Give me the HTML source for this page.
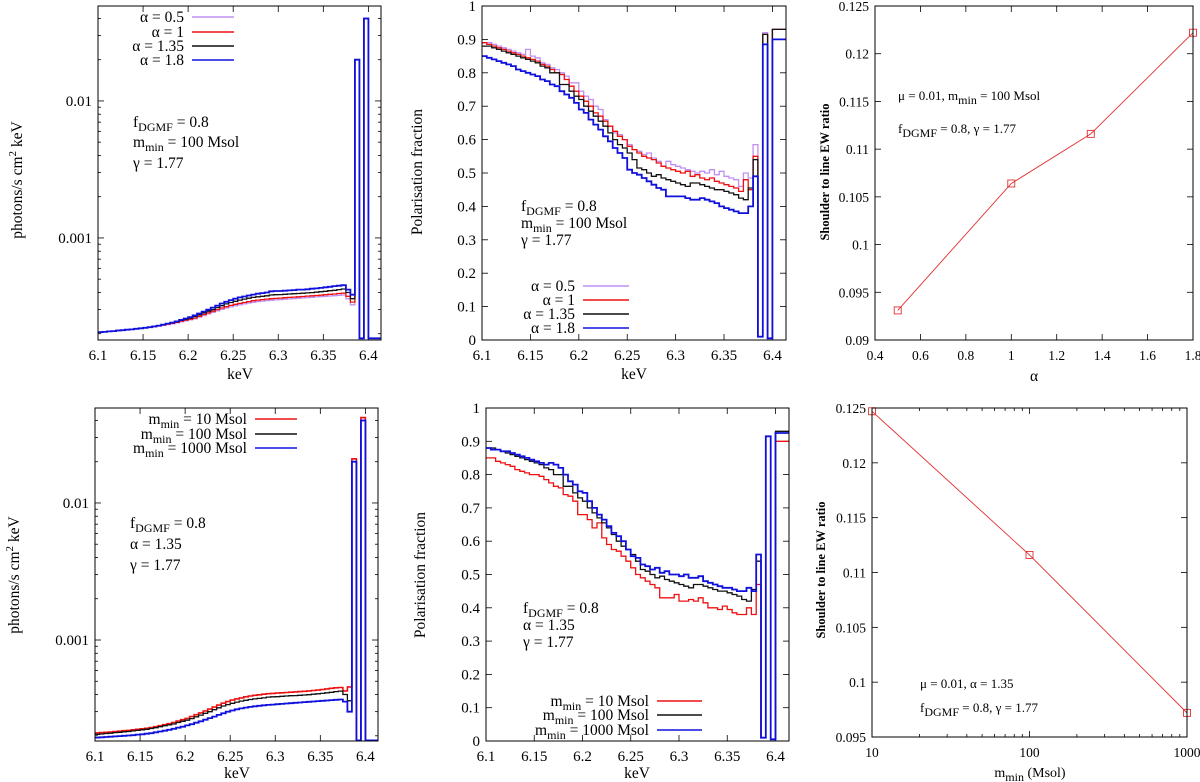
<!DOCTYPE html>
<html><head><meta charset="utf-8">
<style>
html,body{margin:0;padding:0;background:#fff;}
svg{display:block;}
text{font-family:"Liberation Serif",serif;fill:#000;}
.tk{font-size:15px;font-family:"Liberation Serif",serif;}
.tn{font-size:13.5px;font-family:"Liberation Serif",serif;}
</style></head>
<body>
<svg id="fig" width="1200" height="782" viewBox="0 0 1200 782" xmlns="http://www.w3.org/2000/svg"></svg>
<script>
// ---------- DATA ----------
const binEdges = [6.100,6.105,6.110,6.115,6.120,6.125,6.130,6.135,6.140,6.145,
6.150,6.155,6.160,6.165,6.170,6.175,6.180,6.185,6.190,6.195,
6.200,6.205,6.210,6.215,6.220,6.225,6.230,6.235,6.240,6.245,
6.250,6.255,6.260,6.265,6.270,6.275,6.280,6.285,6.290,6.295,
6.300,6.305,6.310,6.315,6.320,6.325,6.330,6.335,6.340,6.345,
6.350,6.355,6.360,6.365,6.370,6.375,6.380,6.385,6.390,6.395,6.400,6.414];

// spectra in units of 1e-4 photons/s cm^2 keV
const specA05 = [2.05,2.06,2.08,2.09,2.11,2.12,2.14,2.15,2.17,2.19, 2.21,2.23,2.25,2.27,2.30,2.33,2.36,2.40,2.44,2.48, 2.52,2.57,2.64,2.71,2.79,2.86,2.94,3.01,3.08,3.14, 3.20,3.25,3.30,3.35,3.39,3.43,3.46,3.49,3.51,3.53, 3.55,3.57,3.59,3.61,3.63,3.65,3.67,3.69,3.71,3.73, 3.75,3.77,3.79,3.81,3.83,3.60,3.25, 200,1.85,400,1.85];
const specA1 = [2.05,2.06,2.08,2.09,2.11,2.12,2.14,2.15,2.17,2.19, 2.21,2.23,2.25,2.28,2.31,2.35,2.38,2.42,2.47,2.51, 2.55,2.60,2.68,2.76,2.84,2.92,3.00,3.08,3.15,3.22, 3.28,3.33,3.38,3.43,3.48,3.52,3.55,3.58,3.60,3.62, 3.64,3.66,3.68,3.70,3.72,3.74,3.76,3.78,3.80,3.82, 3.85,3.88,3.90,3.93,3.95,3.75,3.40, 200,1.85,400,1.85];
const specA135 = [2.05,2.06,2.08,2.09,2.11,2.12,2.14,2.15,2.17,2.19, 2.21,2.23,2.26,2.29,2.33,2.37,2.40,2.44,2.50,2.55, 2.60,2.67,2.75,2.83,2.92,3.00,3.10,3.20,3.30,3.38, 3.45,3.52,3.58,3.63,3.68,3.72,3.75,3.78,3.83,3.85, 3.86,3.88,3.90,3.92,3.93,3.95,3.97,3.99,4.02,4.05, 4.08,4.12,4.15,4.20,4.24,4.00,3.60, 200,1.85,400,1.85];
const specA18 = [2.05,2.06,2.08,2.09,2.11,2.12,2.14,2.15,2.17,2.19, 2.21,2.23,2.26,2.29,2.33,2.37,2.41,2.46,2.52,2.58, 2.64,2.72,2.81,2.90,3.00,3.10,3.20,3.32,3.42,3.52, 3.60,3.68,3.74,3.80,3.86,3.92,3.96,4.00,4.08,4.10, 4.10,4.12,4.14,4.16,4.20,4.20,4.22,4.26,4.28,4.32, 4.36,4.40,4.45,4.48,4.52,4.20,3.85, 200,1.85,400,1.85];
const specM10 = [2.10,2.11,2.12,2.13,2.15,2.16,2.18,2.19,2.21,2.23, 2.25,2.27,2.30,2.33,2.37,2.41,2.45,2.50,2.56,2.62, 2.68,2.76,2.85,2.94,3.04,3.13,3.24,3.35,3.46,3.55, 3.64,3.72,3.78,3.85,3.90,3.95,3.98,4.02,4.06,4.08, 4.10,4.12,4.14,4.16,4.18,4.20,4.22,4.25,4.28,4.31, 4.35,4.40,4.44,4.48,4.50,4.25,4.55, 210,1.85,420,1.85];
const specM100 = specA135.slice();
const specM1000 = [1.94,1.95,1.96,1.97,1.98,1.99,2.00,2.01,2.02,2.04, 2.05,2.07,2.09,2.12,2.15,2.18,2.21,2.25,2.29,2.33, 2.38,2.43,2.49,2.55,2.62,2.69,2.76,2.84,2.92,3.00, 3.06,3.12,3.17,3.21,3.25,3.28,3.31,3.34,3.36,3.38, 3.40,3.42,3.44,3.46,3.48,3.50,3.52,3.54,3.56,3.58, 3.60,3.62,3.64,3.66,3.68,3.55,3.00, 200,1.85,400,1.85];

// polarisation fractions
const polA05 = [.89,.89,.885,.88,.875,.87,.865,.86,.855,.87, .85,.845,.83,.825,.815,.81,.80,.79,.77,.77, .745,.73,.72,.70,.69,.66,.64,.62,.615,.60, .585,.57,.565,.555,.56,.545,.535,.52,.535,.525, .52,.515,.51,.505,.50,.505,.50,.51,.495,.505, .49,.485,.48,.46,.50,.485,.585, .01,.92,.005,.93];
const polA1 = [.89,.885,.88,.875,.87,.865,.86,.855,.85,.845, .84,.835,.825,.82,.81,.80,.795,.78,.76,.745, .73,.715,.70,.68,.67,.655,.64,.625,.61,.60, .58,.57,.56,.55,.545,.54,.53,.52,.515,.51, .505,.50,.505,.49,.495,.485,.48,.485,.475,.47, .465,.46,.455,.445,.48,.45,.55, .01,.915,.005,.93];
const polA135 = [.88,.88,.875,.87,.865,.86,.855,.85,.845,.84, .835,.83,.82,.815,.80,.80,.765,.765,.745,.73, .72,.70,.685,.67,.655,.64,.62,.60,.585,.575, .56,.54,.515,.51,.50,.49,.495,.485,.48,.475, .47,.465,.46,.47,.47,.465,.46,.455,.45,.45, .445,.44,.435,.425,.42,.455,.54, .01,.915,.005,.93];
const polA18 = [.85,.845,.84,.835,.83,.825,.82,.81,.805,.80, .795,.79,.78,.775,.765,.76,.745,.735,.725,.71, .69,.68,.66,.645,.63,.61,.595,.575,.56,.545, .51,.50,.495,.485,.475,.465,.455,.45,.43,.43, .43,.43,.425,.42,.42,.425,.42,.415,.41,.40, .395,.39,.385,.38,.38,.40,.49, .01,.885,.005,.90];
const polM10 = [.85,.85,.84,.835,.83,.825,.815,.81,.805,.80, .80,.795,.785,.775,.765,.76,.74,.735,.72,.68, .68,.665,.64,.655,.61,.59,.575,.57,.555,.54, .52,.50,.49,.48,.47,.46,.43,.43,.43,.44, .42,.42,.425,.42,.43,.415,.40,.40,.395,.405, .395,.385,.38,.38,.40,.38,.47, .01,.915,.005,.90];
const polM100 = polA135.slice();
const polM1000 = [.88,.875,.875,.87,.87,.865,.86,.855,.85,.845, .84,.835,.83,.835,.83,.82,.80,.78,.77,.75, .745,.72,.70,.68,.665,.645,.625,.615,.60,.575, .555,.55,.53,.525,.515,.52,.505,.51,.50,.50, .495,.50,.49,.49,.495,.48,.475,.47,.465,.46, .46,.455,.45,.45,.46,.45,.56, .01,.915,.005,.925];

// shoulder-to-line ratios
const alphaVals = [0.5, 1, 1.35, 1.8];
const ratioVsAlpha = [0.0931, 0.1064, 0.1116, 0.1222];
const mminVals = [10, 100, 1000];
const ratioVsMmin = [0.1247, 0.1116, 0.0972];

const energyTicks = [6.1,6.15,6.2,6.25,6.3,6.35,6.4];
const energyTickLabels = ["6.1","6.15","6.2","6.25","6.3","6.35","6.4"];
const polTicks = [0,0.1,0.2,0.3,0.4,0.5,0.6,0.7,0.8,0.9,1];
const polTickLabels = ["0","0.1","0.2","0.3","0.4","0.5","0.6","0.7","0.8","0.9","1"];
const specTicks = [0.001,0.01];
const specTickLabels = ["0.001","0.01"];
const alphaTicks = [0.4,0.6,0.8,1,1.2,1.4,1.6,1.8];
const alphaTickLabels = ["0.4","0.6","0.8","1","1.2","1.4","1.6","1.8"];
const ratioTicks3 = [0.09,0.095,0.1,0.105,0.11,0.115,0.12,0.125];
const ratioTickLabels3 = ["0.09","0.095","0.1","0.105","0.11","0.115","0.12","0.125"];
const ratioTicks6 = [0.095,0.1,0.105,0.11,0.115,0.12,0.125];
const ratioTickLabels6 = ["0.095","0.1","0.105","0.11","0.115","0.12","0.125"];
const mminTicks = [10,100,1000];
const mminTickLabels = ["10","100","1000"];

// ---------- DRAWING ----------
const NS = "http://www.w3.org/2000/svg";
const svg = document.getElementById('fig');
function mk(tag, attrs, parent){
  const e = document.createElementNS(NS, tag);
  for (const k in attrs) e.setAttribute(k, attrs[k]);
  (parent||svg).appendChild(e);
  return e;
}
function linScale(d0,d1,r0,r1){ return v => r0 + (v-d0)/(d1-d0)*(r1-r0); }
function logScale(d0,d1,r0,r1){ return v => r0 + (Math.log10(v)-Math.log10(d0))/(Math.log10(d1)-Math.log10(d0))*(r1-r0); }

let clipId = 0;
function panel(cfg){
  const g = mk('g', {});
  
  
  const {L,R,T,B} = cfg;
  const sx = cfg.xlog ? logScale(cfg.x0,cfg.x1,L,R) : linScale(cfg.x0,cfg.x1,L,R);
  const sy = cfg.ylog ? logScale(cfg.y0,cfg.y1,B,T) : linScale(cfg.y0,cfg.y1,B,T);
  const cid = 'c' + (clipId++);
  const cp = mk('clipPath', {id:cid}, g);
  mk('rect', {x:L, y:T, width:R-L, height:B-T}, cp);
  const tg = mk('g', {stroke:'#000','stroke-width':0.8}, g);
  
  
  cfg.xTicks.forEach((v,i) => {
    const x = sx(v);
    mk('line', {x1:x,y1:B,x2:x,y2:B-6}, tg);
    mk('line', {x1:x,y1:T,x2:x,y2:T+6}, tg);
    const t = mk('text', {x:x, y:B+20, 'text-anchor':'middle', class:cfg.fontClass}, g);
    
    
    t.textContent = cfg.xTickLabels[i];
  });
  cfg.yTicks.forEach((v,i) => {
    const y = sy(v);
    mk('line', {x1:L,y1:y,x2:L+6,y2:y}, tg);
    mk('line', {x1:R,y1:y,x2:R-6,y2:y}, tg);
    const t = mk('text', {x:L-6, y:y+5, 'text-anchor':'end', class:cfg.fontClass}, g);
    
    
    t.textContent = cfg.yTickLabels[i];
  });
  if (cfg.ylog){
    for (let d=-4; d<=-1; d++) for (let m=2; m<=9; m++){
      const v = m*Math.pow(10,d);
      if (v<cfg.y0 || v>cfg.y1) continue;
      const y = sy(v);
      mk('line', {x1:L,y1:y,x2:L+3,y2:y}, tg);
      mk('line', {x1:R,y1:y,x2:R-3,y2:y}, tg);
    }
  }
  if (cfg.xlog){
    for (let d=1; d<=2; d++) for (let m=2; m<=9; m++){
      const x = sx(m*Math.pow(10,d));
      mk('line', {x1:x,y1:B,x2:x,y2:B-3}, tg);
      mk('line', {x1:x,y1:T,x2:x,y2:T+3}, tg);
    }
  }
  const sg = mk('g', {'clip-path':'url(#'+cid+')'}, g);
  (cfg.steps||[]).forEach(s => {
    let d = '';
    s.vals.forEach((v,i) => {
      const x0 = sx(binEdges[i]), x1 = sx(binEdges[i+1]);
      const y = sy(cfg.specScale ? v*cfg.specScale : v);
      d += (i===0 ? 'M'+x0.toFixed(1)+' '+y.toFixed(1) : 'V'+y.toFixed(1)) + 'H'+x1.toFixed(1);
    });
    const p = mk('path', {d:d, fill:'none', stroke:s.color, 'stroke-width':s.w||1.3, 'stroke-linejoin':'miter'}, sg);
    
    
  });
  if (cfg.points){
    const pts = cfg.points.x.map((v,i) => [sx(v), sy(cfg.points.y[i])]);
    const pl = mk('polyline', {points: pts.map(p=>p.join(',')).join(' '), fill:'none', stroke:'#e03030','stroke-width':0.9}, g);
    
    
    pts.forEach(p => {
      const r = mk('rect', {x:p[0]-3.5, y:p[1]-3.5, width:7, height:7, fill:'none', stroke:'#e03030','stroke-width':0.9}, g);
      
      
    });
  }
  const fr = mk('rect', {x:L, y:T, width:R-L, height:B-T, fill:'none', stroke:'#000','stroke-width':1}, g);
  
  
  return g;
}

function txt(x,y,html,name,opts){
  opts = opts||{};
  const t = mk('text', {x:x, y:y, 'font-size':opts.size||15.5, 'text-anchor':opts.anchor||'start'});
  if (opts.rot) t.setAttribute('transform','rotate(-90 '+x+' '+y+')');
  if (opts.bold) t.setAttribute('font-weight','bold');
  
  
  t.innerHTML = html;
  return t;
}
function legend(x0, x1, y, color, html, name, w){
  txt(x0-8, y+5, html, name + '-label', {anchor:'end'});
  const l = mk('line', {x1:x0, y1:y, x2:x1, y2:y, stroke:color, 'stroke-width':w||1.5});
  
  
}
const sub = s => '<tspan dy="4" font-size="12">'+s+'</tspan><tspan dy="-4"> </tspan>';
const fD = 'f'+sub('DGMF')+'= 0.8';
const mm = v => 'm'+sub('min')+'= '+v+' Msol';

const C = {pur:'#c090f0', red:'#ee1010', blk:'#111', blu:'#1010dd'};

panel({name:'spectrum-alpha-panel', L:98,R:381,T:6,B:340, x0:6.1,x1:6.414, ylog:true, y0:Math.pow(10,-3.745), y1:Math.pow(10,-1.307),
  specScale:1e-4, fontClass:'tk', xTicks:energyTicks, xTickLabels:energyTickLabels, yTicks:specTicks, yTickLabels:specTickLabels,
  steps:[{name:'spectrum-alpha-0.5',vals:specA05,color:C.pur},{name:'spectrum-alpha-1',vals:specA1,color:C.red},
         {name:'spectrum-alpha-1.35',vals:specA135,color:C.blk},{name:'spectrum-alpha-1.8',vals:specA18,color:C.blu,w:1.8}]});
panel({name:'polarisation-alpha-panel', L:482,R:786,T:6,B:340, x0:6.1,x1:6.414, y0:0,y1:1, fontClass:'tk',
  xTicks:energyTicks, xTickLabels:energyTickLabels, yTicks:polTicks, yTickLabels:polTickLabels,
  steps:[{name:'pol-alpha-0.5',vals:polA05,color:C.pur},{name:'pol-alpha-1',vals:polA1,color:C.red},
         {name:'pol-alpha-1.35',vals:polA135,color:C.blk},{name:'pol-alpha-1.8',vals:polA18,color:C.blu,w:1.8}]});
panel({name:'ratio-vs-alpha-panel', L:875,R:1193,T:6,B:340, x0:0.4,x1:1.8, y0:0.09,y1:0.125, fontClass:'tn',
  xTicks:alphaTicks, xTickLabels:alphaTickLabels, yTicks:ratioTicks3, yTickLabels:ratioTickLabels3,
  points:{x:alphaVals, y:ratioVsAlpha}});
panel({name:'spectrum-mmin-panel', L:95,R:378,T:408,B:741, x0:6.1,x1:6.414, ylog:true, y0:Math.pow(10,-3.737), y1:Math.pow(10,-1.307),
  specScale:1e-4, fontClass:'tk', xTicks:energyTicks, xTickLabels:energyTickLabels, yTicks:specTicks, yTickLabels:specTickLabels,
  steps:[{name:'spectrum-mmin-10',vals:specM10,color:C.red,w:1.6},{name:'spectrum-mmin-100',vals:specM100,color:C.blk},
         {name:'spectrum-mmin-1000',vals:specM1000,color:C.blu,w:1.8}]});
panel({name:'polarisation-mmin-panel', L:486,R:789,T:408,B:741, x0:6.1,x1:6.414, y0:0,y1:1, fontClass:'tk',
  xTicks:energyTicks, xTickLabels:energyTickLabels, yTicks:polTicks, yTickLabels:polTickLabels,
  steps:[{name:'pol-mmin-10',vals:polM10,color:C.red},{name:'pol-mmin-100',vals:polM100,color:C.blk},
         {name:'pol-mmin-1000',vals:polM1000,color:C.blu,w:1.8}]});
panel({name:'ratio-vs-mmin-panel', L:872,R:1187,T:408,B:737, xlog:true, x0:10,x1:1000, y0:0.095,y1:0.125, fontClass:'tn',
  xTicks:mminTicks, xTickLabels:mminTickLabels, yTicks:ratioTicks6, yTickLabels:ratioTickLabels6,
  points:{x:mminVals, y:ratioVsMmin}});

txt(240,379,'keV','x-axis-title-1',{anchor:'middle'});
txt(634,379,'keV','x-axis-title-2',{anchor:'middle'});
txt(1034,381,'α','x-axis-title-3',{anchor:'middle'});
txt(237,778,'keV','x-axis-title-4',{anchor:'middle'});
txt(637,778,'keV','x-axis-title-5',{anchor:'middle'});
txt(1030,777,'m'+sub('min')+'(Msol)','x-axis-title-6',{anchor:'middle',size:14});
txt(22,180,'photons/s cm<tspan dy="-6" font-size="11">2</tspan><tspan dy="6"> keV</tspan>','y-axis-title-1',{anchor:'middle',rot:true});
txt(422,172,'Polarisation fraction','y-axis-title-2',{anchor:'middle',rot:true});
txt(829,172,'Shoulder to line EW ratio','y-axis-title-3',{anchor:'middle',rot:true,size:12.5,bold:true});
txt(19,575,'photons/s cm<tspan dy="-6" font-size="11">2</tspan><tspan dy="6"> keV</tspan>','y-axis-title-4',{anchor:'middle',rot:true});
txt(425,575,'Polarisation fraction','y-axis-title-5',{anchor:'middle',rot:true});
txt(825,570,'Shoulder to line EW ratio','y-axis-title-6',{anchor:'middle',rot:true,size:12.5,bold:true});

txt(133,127,fD,'annotation-fdgmf-1'); txt(133,147,mm(100),'annotation-mmin-1'); txt(133,168,'γ = 1.77','annotation-gamma-1');
txt(521,211,fD,'annotation-fdgmf-2'); txt(521,228,mm(100),'annotation-mmin-2'); txt(521,245,'γ = 1.77','annotation-gamma-2');
txt(898,100,'μ = 0.01, m'+sub('min')+'= 100 Msol','annotation-params-3',{size:13});
txt(898,133,'f'+sub('DGMF')+'= 0.8, γ = 1.77','annotation-params-3b',{size:13});
txt(130,528,fD,'annotation-fdgmf-4'); txt(130,549,'α = 1.35','annotation-alpha-4'); txt(130,570,'γ = 1.77','annotation-gamma-4');
txt(523,613,fD,'annotation-fdgmf-5'); txt(523,630,'α = 1.35','annotation-alpha-5'); txt(523,647,'γ = 1.77','annotation-gamma-5');
txt(920,688,'μ = 0.01, α = 1.35','annotation-params-6',{size:13});
txt(920,712,'f'+sub('DGMF')+'= 0.8, γ = 1.77','annotation-params-6b',{size:13});

legend(192,234,17,C.pur,'α = 0.5','legend-alpha-0.5-1');
legend(192,234,32,C.red,'α = 1','legend-alpha-1-1');
legend(192,234,46,C.blk,'α = 1.35','legend-alpha-1.35-1');
legend(192,234,60,C.blu,'α = 1.8','legend-alpha-1.8-1');
legend(583,629,286,C.pur,'α = 0.5','legend-alpha-0.5-2');
legend(583,629,300,C.red,'α = 1','legend-alpha-1-2');
legend(583,629,314,C.blk,'α = 1.35','legend-alpha-1.35-2');
legend(583,629,328,C.blu,'α = 1.8','legend-alpha-1.8-2');
legend(255,297,419,C.red,mm(10),'legend-mmin-10-4');
legend(255,297,434,C.blk,mm(100),'legend-mmin-100-4');
legend(255,297,448,C.blu,mm(1000),'legend-mmin-1000-4');
legend(657,702,701,C.red,mm(10),'legend-mmin-10-5');
legend(657,702,715,C.blk,mm(100),'legend-mmin-100-5');
legend(657,702,730,C.blu,mm(1000),'legend-mmin-1000-5');
</script>
</body></html>
